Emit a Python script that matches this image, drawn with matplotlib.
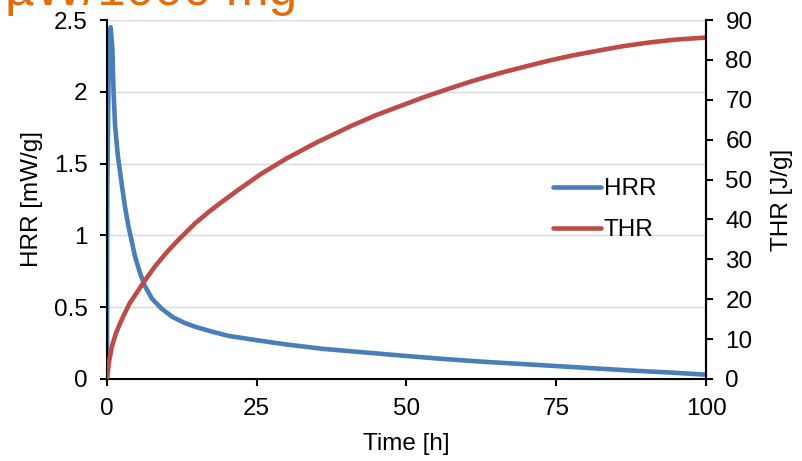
import matplotlib
matplotlib.use("Agg")
import matplotlib.pyplot as plt
from matplotlib.ticker import FuncFormatter

plt.rcParams['font.family'] = ['Liberation Sans', 'DejaVu Sans']

# HRR curve (time in h, mW/g)
hrr_t = [0, 0.05, 0.3, 0.6, 0.9, 1.1, 1.34, 1.8, 2.45, 3.0, 3.6, 4.7, 5.5, 6.3, 7.5,
         9.1, 11, 13, 14.7, 17.5, 20.3, 25, 30, 36, 43, 50, 56, 62.8, 69, 75, 81,
         87.9, 94, 100]
hrr = [0, 1.3, 2.2, 2.45, 2.3, 2.0, 1.77, 1.56, 1.36, 1.2, 1.06, 0.85, 0.74, 0.65, 0.56,
       0.49, 0.43, 0.39, 0.364, 0.33, 0.30, 0.27, 0.24, 0.21, 0.185, 0.16, 0.14, 0.12,
       0.105, 0.09, 0.075, 0.058, 0.045, 0.03]

# THR curve (time in h, J/g)
thr_t = [0, 0.3, 0.8, 1.5, 2.2, 3.0, 3.8, 5.0, 6.1, 8.0, 10, 12, 14.7, 17, 19, 22,
         25.8, 30, 35, 41, 45, 48.9, 53, 57.3, 61, 65.6, 70, 74, 78, 82.3, 86, 90.7,
         95, 100]
thr = [0, 4.0, 8.1, 11.5, 14, 16.6, 19, 21.7, 24.2, 28.2, 31.8, 35, 39, 41.9, 44.2, 47.5,
       51.5, 55.3, 59.3, 63.6, 66.2, 68.4, 70.7, 72.9, 74.7, 76.7, 78.4, 79.9, 81.2,
       82.4, 83.4, 84.4, 85.1, 85.6]

blue = '#4A7EBB'
red = '#BE4B48'
fs = 17.5

fig = plt.figure(figsize=(8.02, 4.61), dpi=100)
ax = fig.add_axes([0.1334, 0.1779, 0.7469, 0.7787])
ax2 = ax.twinx()

l1, = ax.plot(hrr_t, hrr, color=blue, lw=3.3, solid_capstyle='round',
              solid_joinstyle='round', label='HRR')
l2, = ax2.plot(thr_t, thr, color=red, lw=3.3, solid_capstyle='round',
               solid_joinstyle='round', label='THR')

ax.set_xlim(0, 100)
ax.set_ylim(0, 2.5)
ax2.set_ylim(0, 90)
ax.set_xticks([0, 25, 50, 75, 100])
ax.set_yticks([0, 0.5, 1, 1.5, 2, 2.5])
ax2.set_yticks(range(0, 91, 10))
ax.yaxis.set_major_formatter(FuncFormatter(lambda v, p: '{:g}'.format(v)))

ax.grid(axis='y', color='#D9D9D9', lw=1.0)
ax.set_axisbelow(True)

for a in (ax, ax2):
    a.spines['top'].set_visible(False)
    for s in a.spines.values():
        s.set_linewidth(1.5)
    a.tick_params(direction='out', length=5, width=1.5, labelsize=fs, pad=9)
ax2.spines['left'].set_visible(False)
ax2.spines['bottom'].set_visible(False)

ax.set_xlabel('Time [h]', fontsize=fs, labelpad=9)
ax.set_ylabel('HRR [mW/g]', fontsize=fs, labelpad=8)
ax2.set_ylabel('THR [J/g]', fontsize=fs, labelpad=13)

ax2.legend([l1, l2], ['HRR', 'THR'], loc='upper left', bbox_to_anchor=(0.674, 0.64),
           bbox_transform=fig.transFigure, frameon=False, fontsize=fs,
           handlelength=2.0, handletextpad=0.1, labelspacing=0.78, borderpad=0)

fig.text(0.006, 1 - 5 / 461, 'µW/1000 mg', color='#E46C0A', fontsize=37, va='baseline')

fig.savefig('out.png', dpi=100)
